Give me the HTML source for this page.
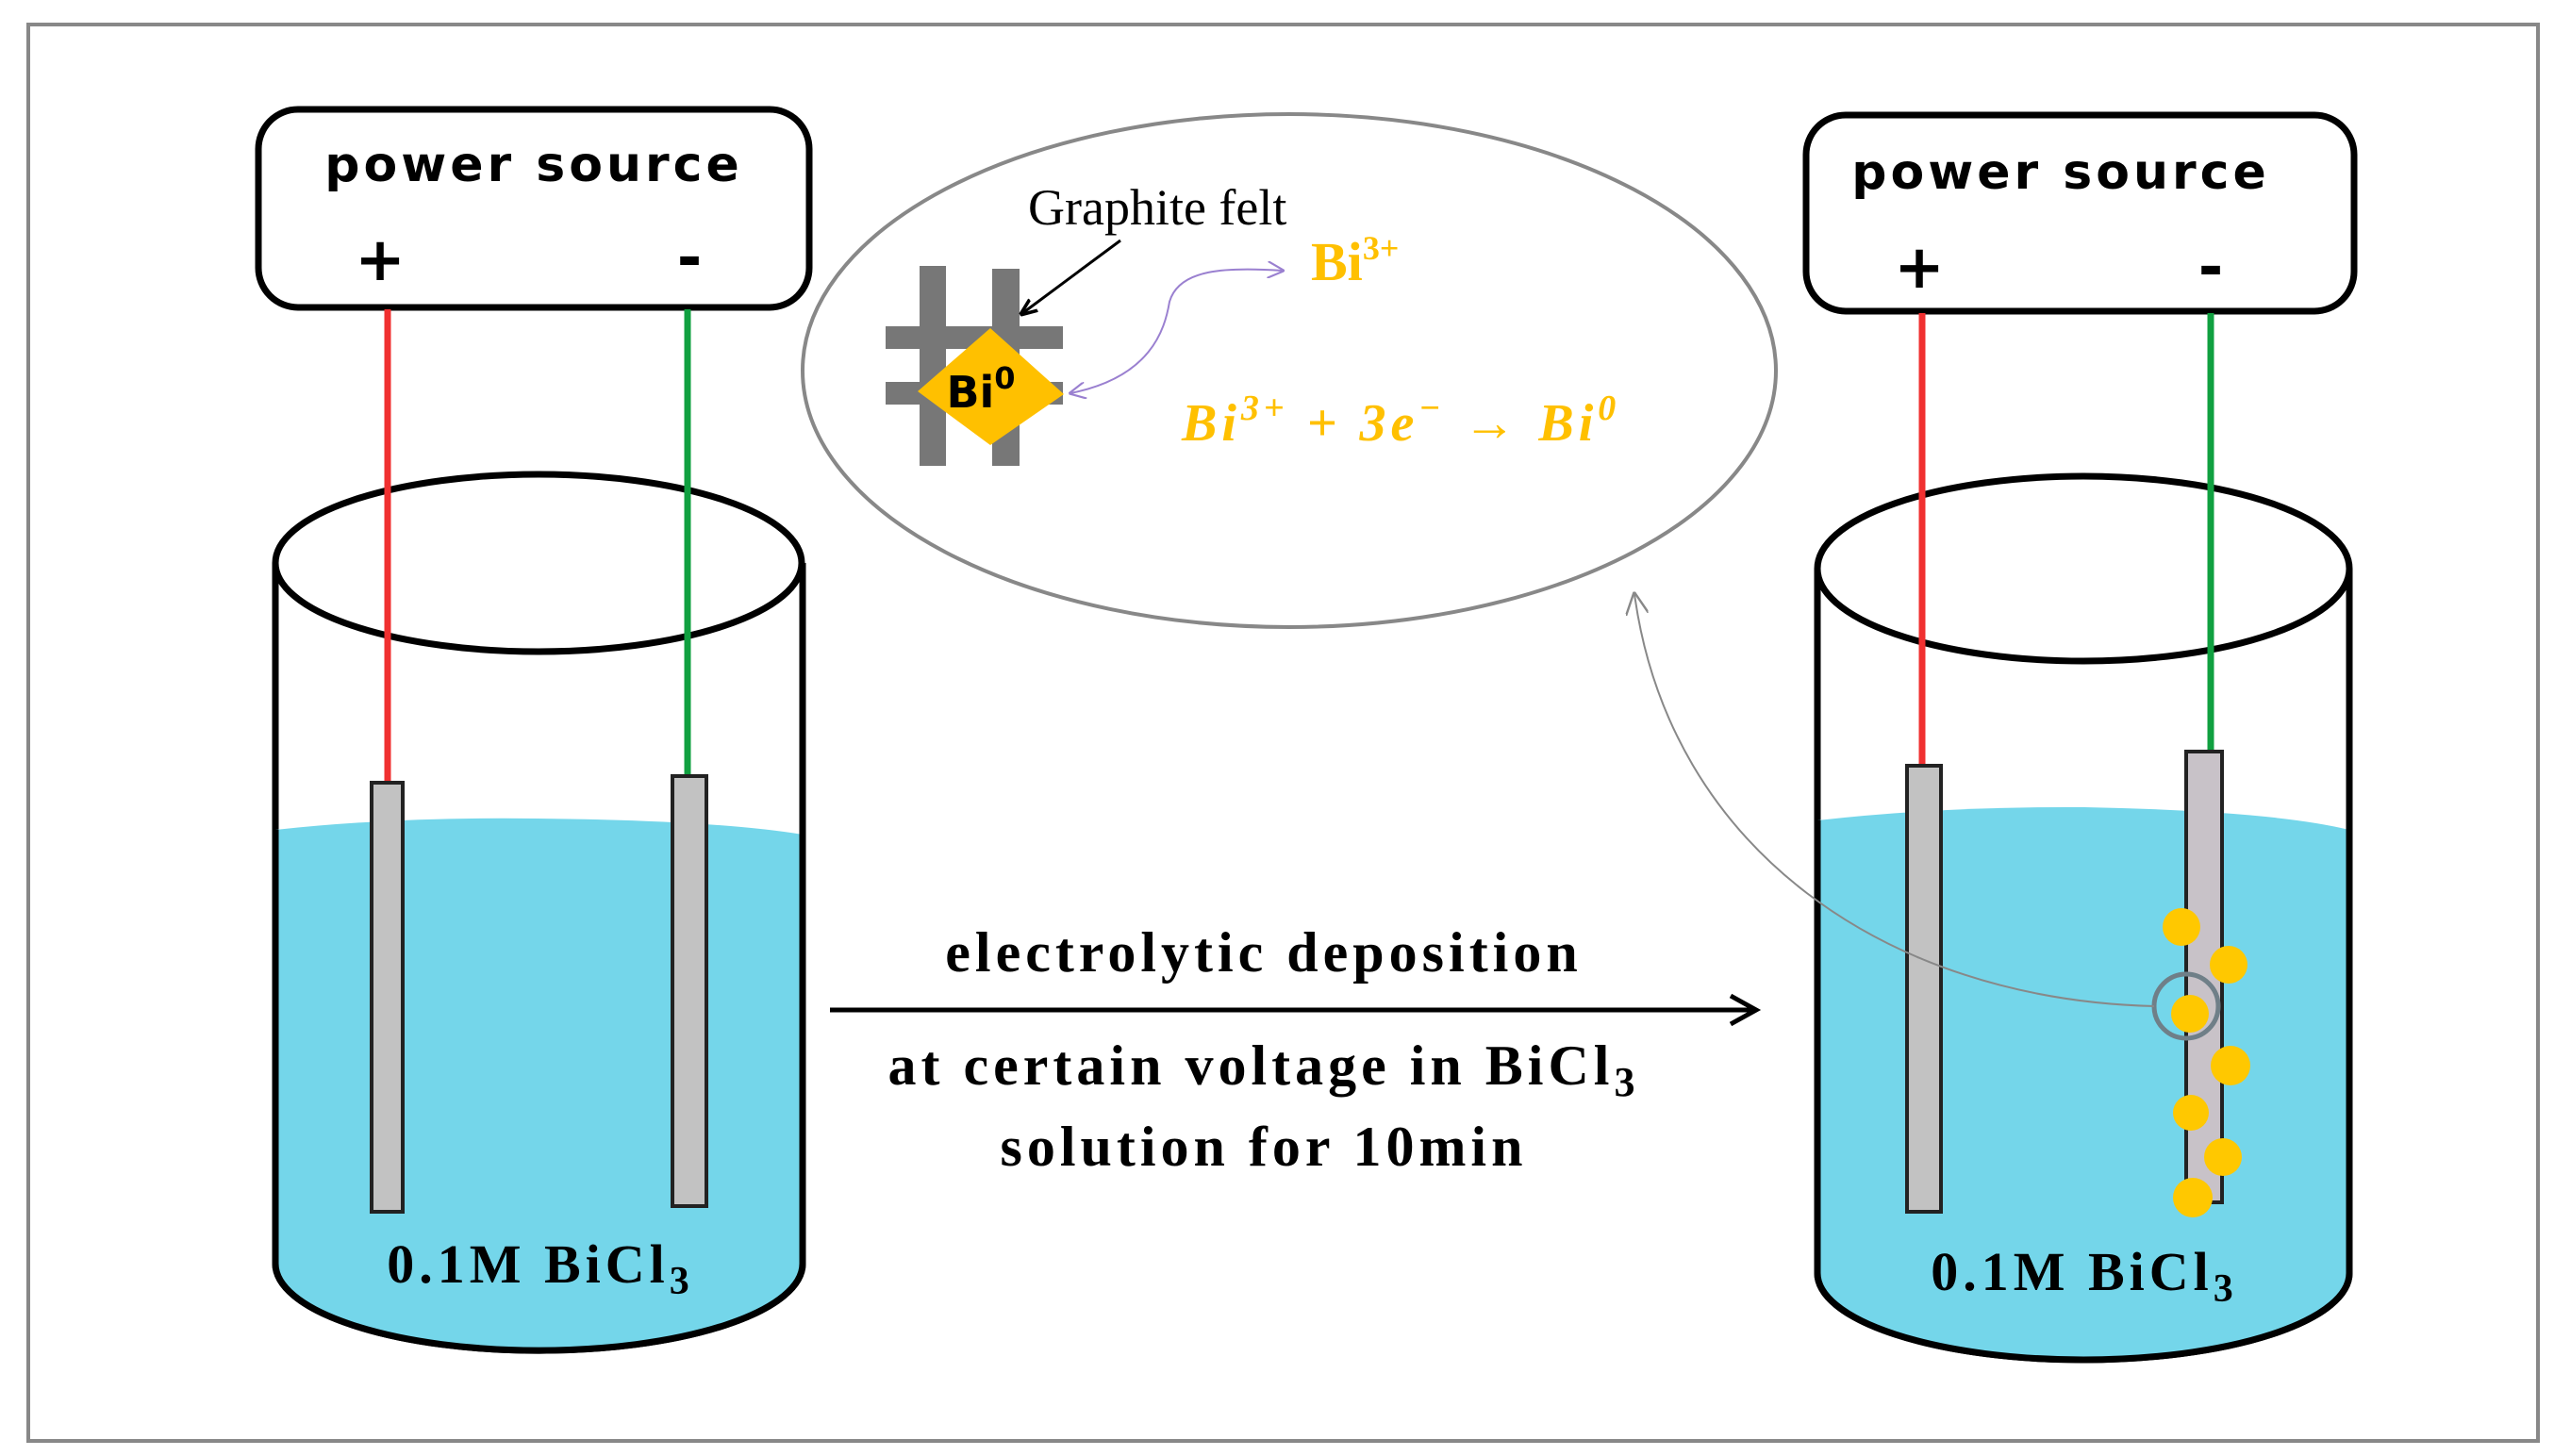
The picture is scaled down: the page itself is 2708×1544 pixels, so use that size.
<!DOCTYPE html>
<html><head><meta charset="utf-8"><style>
html,body{margin:0;padding:0;background:#fff;}
svg{display:block;}
</style></head><body>
<svg width="2708" height="1544" viewBox="0 0 2708 1544" xmlns="http://www.w3.org/2000/svg">
<defs>
<marker id="ap" viewBox="0 0 10 10" refX="9" refY="5" markerWidth="9" markerHeight="9" orient="auto-start-reverse"><path d="M0,0 L10,5 L0,10" fill="none" stroke="#9a80d0" stroke-width="1.2"/></marker>
<marker id="ag" viewBox="0 0 10 10" refX="9" refY="5" markerWidth="12" markerHeight="12" orient="auto"><path d="M0,0 L10,5 L0,10" fill="none" stroke="#888" stroke-width="1"/></marker>
<marker id="ab" viewBox="0 0 10 10" refX="9" refY="5" markerWidth="6" markerHeight="6" orient="auto"><path d="M0,1 L10,5 L0,9" fill="none" stroke="#000" stroke-width="2"/></marker>
</defs>
<rect x="30" y="26" width="2661" height="1502" fill="#fff" stroke="#888" stroke-width="4"/>

<!-- LEFT -->
<g>
<path d="M292,597 L292,1340 A279,92 0 0 0 851,1340 L851,597" fill="#fff" stroke="#000" stroke-width="7"/>
<path d="M292,880 Q420,866 570,868 Q760,870 851,885 L851,1340 A279,92 0 0 1 292,1340 Z" fill="#74d6ea"/>
<ellipse cx="571" cy="597" rx="279" ry="94" fill="none" stroke="#000" stroke-width="7"/>
<path d="M292,880 L292,1340 A279,92 0 0 0 851,1340 L851,880" fill="none" stroke="#000" stroke-width="7"/>
<rect x="274" y="116" width="584" height="210" rx="42" fill="#fff" stroke="#000" stroke-width="7"/>
<text x="566" y="192" font-family="DejaVu Sans, sans-serif" font-weight="bold" font-size="52" letter-spacing="4" text-anchor="middle">power source</text>
<text x="403" y="297" font-family="DejaVu Sans, sans-serif" font-weight="bold" font-size="64" text-anchor="middle">+</text>
<text x="731" y="295" font-family="DejaVu Sans, sans-serif" font-weight="bold" font-size="64" text-anchor="middle">-</text>
<line x1="411" y1="328" x2="411" y2="830" stroke="#f03030" stroke-width="7"/>
<line x1="729" y1="328" x2="729" y2="823" stroke="#10a040" stroke-width="7"/>
<rect x="394" y="830" width="33" height="455" fill="#c2c2c2" stroke="#222" stroke-width="4"/>
<rect x="713" y="823" width="36" height="456" fill="#c2c2c2" stroke="#222" stroke-width="4"/>
<text x="573" y="1360" font-family="Liberation Serif, serif" font-weight="bold" font-size="58" letter-spacing="5" text-anchor="middle">0.1M BiCl<tspan font-size="42" dy="12">3</tspan></text>
</g>

<!-- RIGHT -->
<g>
<path d="M1927,603 L1927,1350 A282,92 0 0 0 2491,1350 L2491,603" fill="#fff" stroke="#000" stroke-width="7"/>
<path d="M1927,870 Q2060,855 2210,856 Q2410,860 2491,880 L2491,1350 A282,92 0 0 1 1927,1350 Z" fill="#74d6ea"/>
<ellipse cx="2209" cy="603" rx="282" ry="98" fill="none" stroke="#000" stroke-width="7"/>
<path d="M1927,870 L1927,1350 A282,92 0 0 0 2491,1350 L2491,870" fill="none" stroke="#000" stroke-width="7"/>
<rect x="1915" y="122" width="581" height="208" rx="42" fill="#fff" stroke="#000" stroke-width="7"/>
<text x="2185" y="200" font-family="DejaVu Sans, sans-serif" font-weight="bold" font-size="52" letter-spacing="4" text-anchor="middle">power source</text>
<text x="2035" y="305" font-family="DejaVu Sans, sans-serif" font-weight="bold" font-size="64" text-anchor="middle">+</text>
<text x="2344" y="305" font-family="DejaVu Sans, sans-serif" font-weight="bold" font-size="64" text-anchor="middle">-</text>
<line x1="2038" y1="332" x2="2038" y2="812" stroke="#f03030" stroke-width="7"/>
<line x1="2344" y1="332" x2="2344" y2="795" stroke="#10a040" stroke-width="7"/>
<rect x="2022" y="812" width="36" height="473" fill="#c2c2c2" stroke="#222" stroke-width="4"/>
<rect x="2318" y="797" width="38" height="478" fill="#c8c2c8" stroke="#222" stroke-width="4"/>
<g fill="#ffc800">
<circle cx="2313" cy="983" r="20"/><circle cx="2363" cy="1023" r="20"/><circle cx="2322" cy="1075" r="20"/>
<circle cx="2365" cy="1130" r="21"/><circle cx="2323" cy="1180" r="19"/><circle cx="2357" cy="1227" r="20"/><circle cx="2325" cy="1270" r="21"/>
</g>
<circle cx="2318" cy="1067" r="34" fill="none" stroke="#6f7f88" stroke-width="5"/>
<text x="2210" y="1368" font-family="Liberation Serif, serif" font-weight="bold" font-size="58" letter-spacing="5" text-anchor="middle">0.1M BiCl<tspan font-size="42" dy="12">3</tspan></text>
</g>

<path d="M2284,1067 C2000,1060 1770,900 1733,630" fill="none" stroke="#888" stroke-width="2" marker-end="url(#ag)"/>

<!-- big ellipse -->
<ellipse cx="1367" cy="393" rx="516" ry="272" fill="none" stroke="#888" stroke-width="4"/>
<text x="1090" y="238" font-family="Liberation Serif, serif" font-size="54">Graphite felt</text>
<g fill="#777">
<rect x="975" y="282" width="28" height="212"/>
<rect x="1052" y="285" width="29" height="209"/>
<rect x="939" y="346" width="188" height="24"/>
<rect x="939" y="405" width="188" height="24"/>
</g>
<polygon points="1050,348 1128,418 1050,472 973,415" fill="#ffc000"/>
<text x="1040" y="432" font-family="DejaVu Sans, sans-serif" font-weight="bold" font-size="46" text-anchor="middle">Bi<tspan font-size="32" dy="-20">0</tspan></text>
<line x1="1188" y1="255" x2="1083" y2="333" stroke="#000" stroke-width="3" marker-end="url(#ab)"/>
<path d="M1135,417 C1220,400 1235,350 1240,320 C1250,285 1300,283 1360,287" fill="none" stroke="#9a80d0" stroke-width="2" marker-start="url(#ap)" marker-end="url(#ap)"/>
<text x="1390" y="297" font-family="Liberation Serif, serif" font-weight="bold" font-size="58" fill="#ffc000">Bi<tspan font-size="36" dy="-22">3+</tspan></text>
<text x="1253" y="467" font-family="Liberation Serif, serif" font-style="italic" font-weight="bold" font-size="56" letter-spacing="5" fill="#ffc000">Bi<tspan font-size="38" dy="-22">3+</tspan><tspan dy="22"> + 3e</tspan><tspan font-size="38" dy="-22">−</tspan><tspan dy="22"> → Bi</tspan><tspan font-size="38" dy="-22">0</tspan></text>

<!-- arrow and label -->
<line x1="880" y1="1071" x2="1860" y2="1071" stroke="#000" stroke-width="5"/>
<path d="M1835,1056 L1862,1071 L1835,1086" fill="none" stroke="#000" stroke-width="5"/>
<text x="1340" y="1030" font-family="Liberation Serif, serif" font-weight="bold" font-size="60" letter-spacing="5" text-anchor="middle">electrolytic deposition</text>
<text x="1340" y="1150" font-family="Liberation Serif, serif" font-weight="bold" font-size="60" letter-spacing="5" text-anchor="middle">at certain voltage in BiCl<tspan font-size="44" dy="12">3</tspan></text>
<text x="1340" y="1236" font-family="Liberation Serif, serif" font-weight="bold" font-size="60" letter-spacing="5" text-anchor="middle">solution for 10min</text>
</svg>
</body></html>
